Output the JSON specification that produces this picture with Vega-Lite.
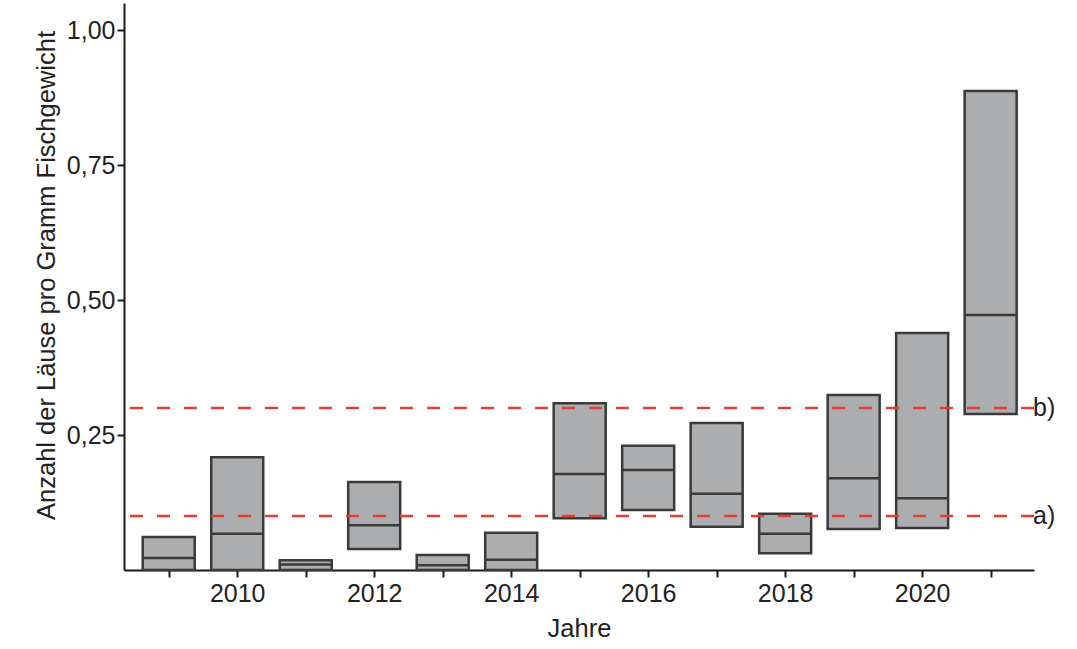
{
  "$schema": "https://vega.github.io/schema/vega-lite/v6.json",
  "width": 910,
  "height": 567,
  "autosize": "none",
  "padding": {"left": 124, "top": 3, "right": 43, "bottom": 79},
  "background": "white",
  "datasets": {
    "boxes": [
      {"year": 2009, "low": 0.0, "median": 0.022, "high": 0.061},
      {"year": 2010, "low": 0.0, "median": 0.067, "high": 0.209},
      {"year": 2011, "low": 0.0, "median": 0.010, "high": 0.018},
      {"year": 2012, "low": 0.039, "median": 0.083, "high": 0.163},
      {"year": 2013, "low": 0.0, "median": 0.009, "high": 0.028},
      {"year": 2014, "low": 0.0, "median": 0.019, "high": 0.069},
      {"year": 2015, "low": 0.096, "median": 0.178, "high": 0.309},
      {"year": 2016, "low": 0.111, "median": 0.185, "high": 0.230},
      {"year": 2017, "low": 0.080, "median": 0.141, "high": 0.272},
      {"year": 2018, "low": 0.031, "median": 0.067, "high": 0.104},
      {"year": 2019, "low": 0.076, "median": 0.170, "high": 0.324},
      {"year": 2020, "low": 0.078, "median": 0.133, "high": 0.439},
      {"year": 2021, "low": 0.289, "median": 0.472, "high": 0.887}
    ],
    "limits": [
      {"level": 0.1, "label": "a)"},
      {"level": 0.3, "label": "b)"}
    ]
  },
  "layer": [
    {
      "data": {"name": "boxes"},
      "mark": {"type": "bar", "size": 52, "fill": "#acadaf", "stroke": "#3a3a3a", "strokeWidth": 2.5},
      "encoding": {
        "x": {
          "field": "year",
          "type": "quantitative",
          "title": "Jahre",
          "scale": {"domain": [2008.42, 2021.56], "nice": false, "zero": false},
          "axis": {
            "values": [2009, 2010, 2011, 2012, 2013, 2014, 2015, 2016, 2017, 2018, 2019, 2020, 2021],
            "labelExpr": "datum.value % 2 == 0 ? format(datum.value, 'd') : ''",
            "labelPadding": 4,
            "titlePadding": 10
          }
        },
        "y": {
          "field": "low",
          "type": "quantitative",
          "title": "Anzahl der Läuse pro Gramm Fischgewicht",
          "scale": {"domain": [0, 1.05], "nice": false},
          "axis": {
            "values": [0.25, 0.5, 0.75, 1.0],
            "labelExpr": "replace(format(datum.value, '.2f'), '.', ',')",
            "labelPadding": 2,
            "titlePadding": 7,
            "titleY": 272
          }
        },
        "y2": {"field": "high"}
      }
    },
    {
      "data": {"name": "boxes"},
      "mark": {"type": "tick", "orient": "horizontal", "size": 52, "thickness": 2.5, "color": "#3a3a3a", "opacity": 1},
      "encoding": {
        "x": {"field": "year", "type": "quantitative", "title": "Jahre"},
        "y": {"field": "median", "type": "quantitative", "title": "Anzahl der Läuse pro Gramm Fischgewicht"}
      }
    },
    {
      "data": {"name": "limits"},
      "mark": {"type": "rule", "color": "#e2402c", "strokeWidth": 2.5, "strokeDash": [13, 14]},
      "encoding": {
        "y": {"field": "level", "type": "quantitative", "title": "Anzahl der Läuse pro Gramm Fischgewicht"}
      }
    },
    {
      "data": {"name": "limits"},
      "mark": {"type": "text", "align": "left", "baseline": "middle", "dx": 4, "fontSize": 25, "color": "#222222"},
      "encoding": {
        "x": {"datum": 2021.56},
        "y": {"field": "level", "type": "quantitative", "title": "Anzahl der Läuse pro Gramm Fischgewicht"},
        "text": {"field": "label"}
      }
    }
  ],
  "config": {
    "view": {"stroke": null},
    "font": "Liberation Sans",
    "axis": {
      "grid": false,
      "domainColor": "#1a1a1a",
      "domainWidth": 2,
      "tickColor": "#1a1a1a",
      "tickWidth": 2,
      "tickSize": 7,
      "labelFont": "Liberation Sans",
      "labelFontSize": 25,
      "labelColor": "#222222",
      "titleFont": "Liberation Sans",
      "titleFontSize": 25.5,
      "titleFontWeight": "normal",
      "titleColor": "#222222"
    }
  }
}
